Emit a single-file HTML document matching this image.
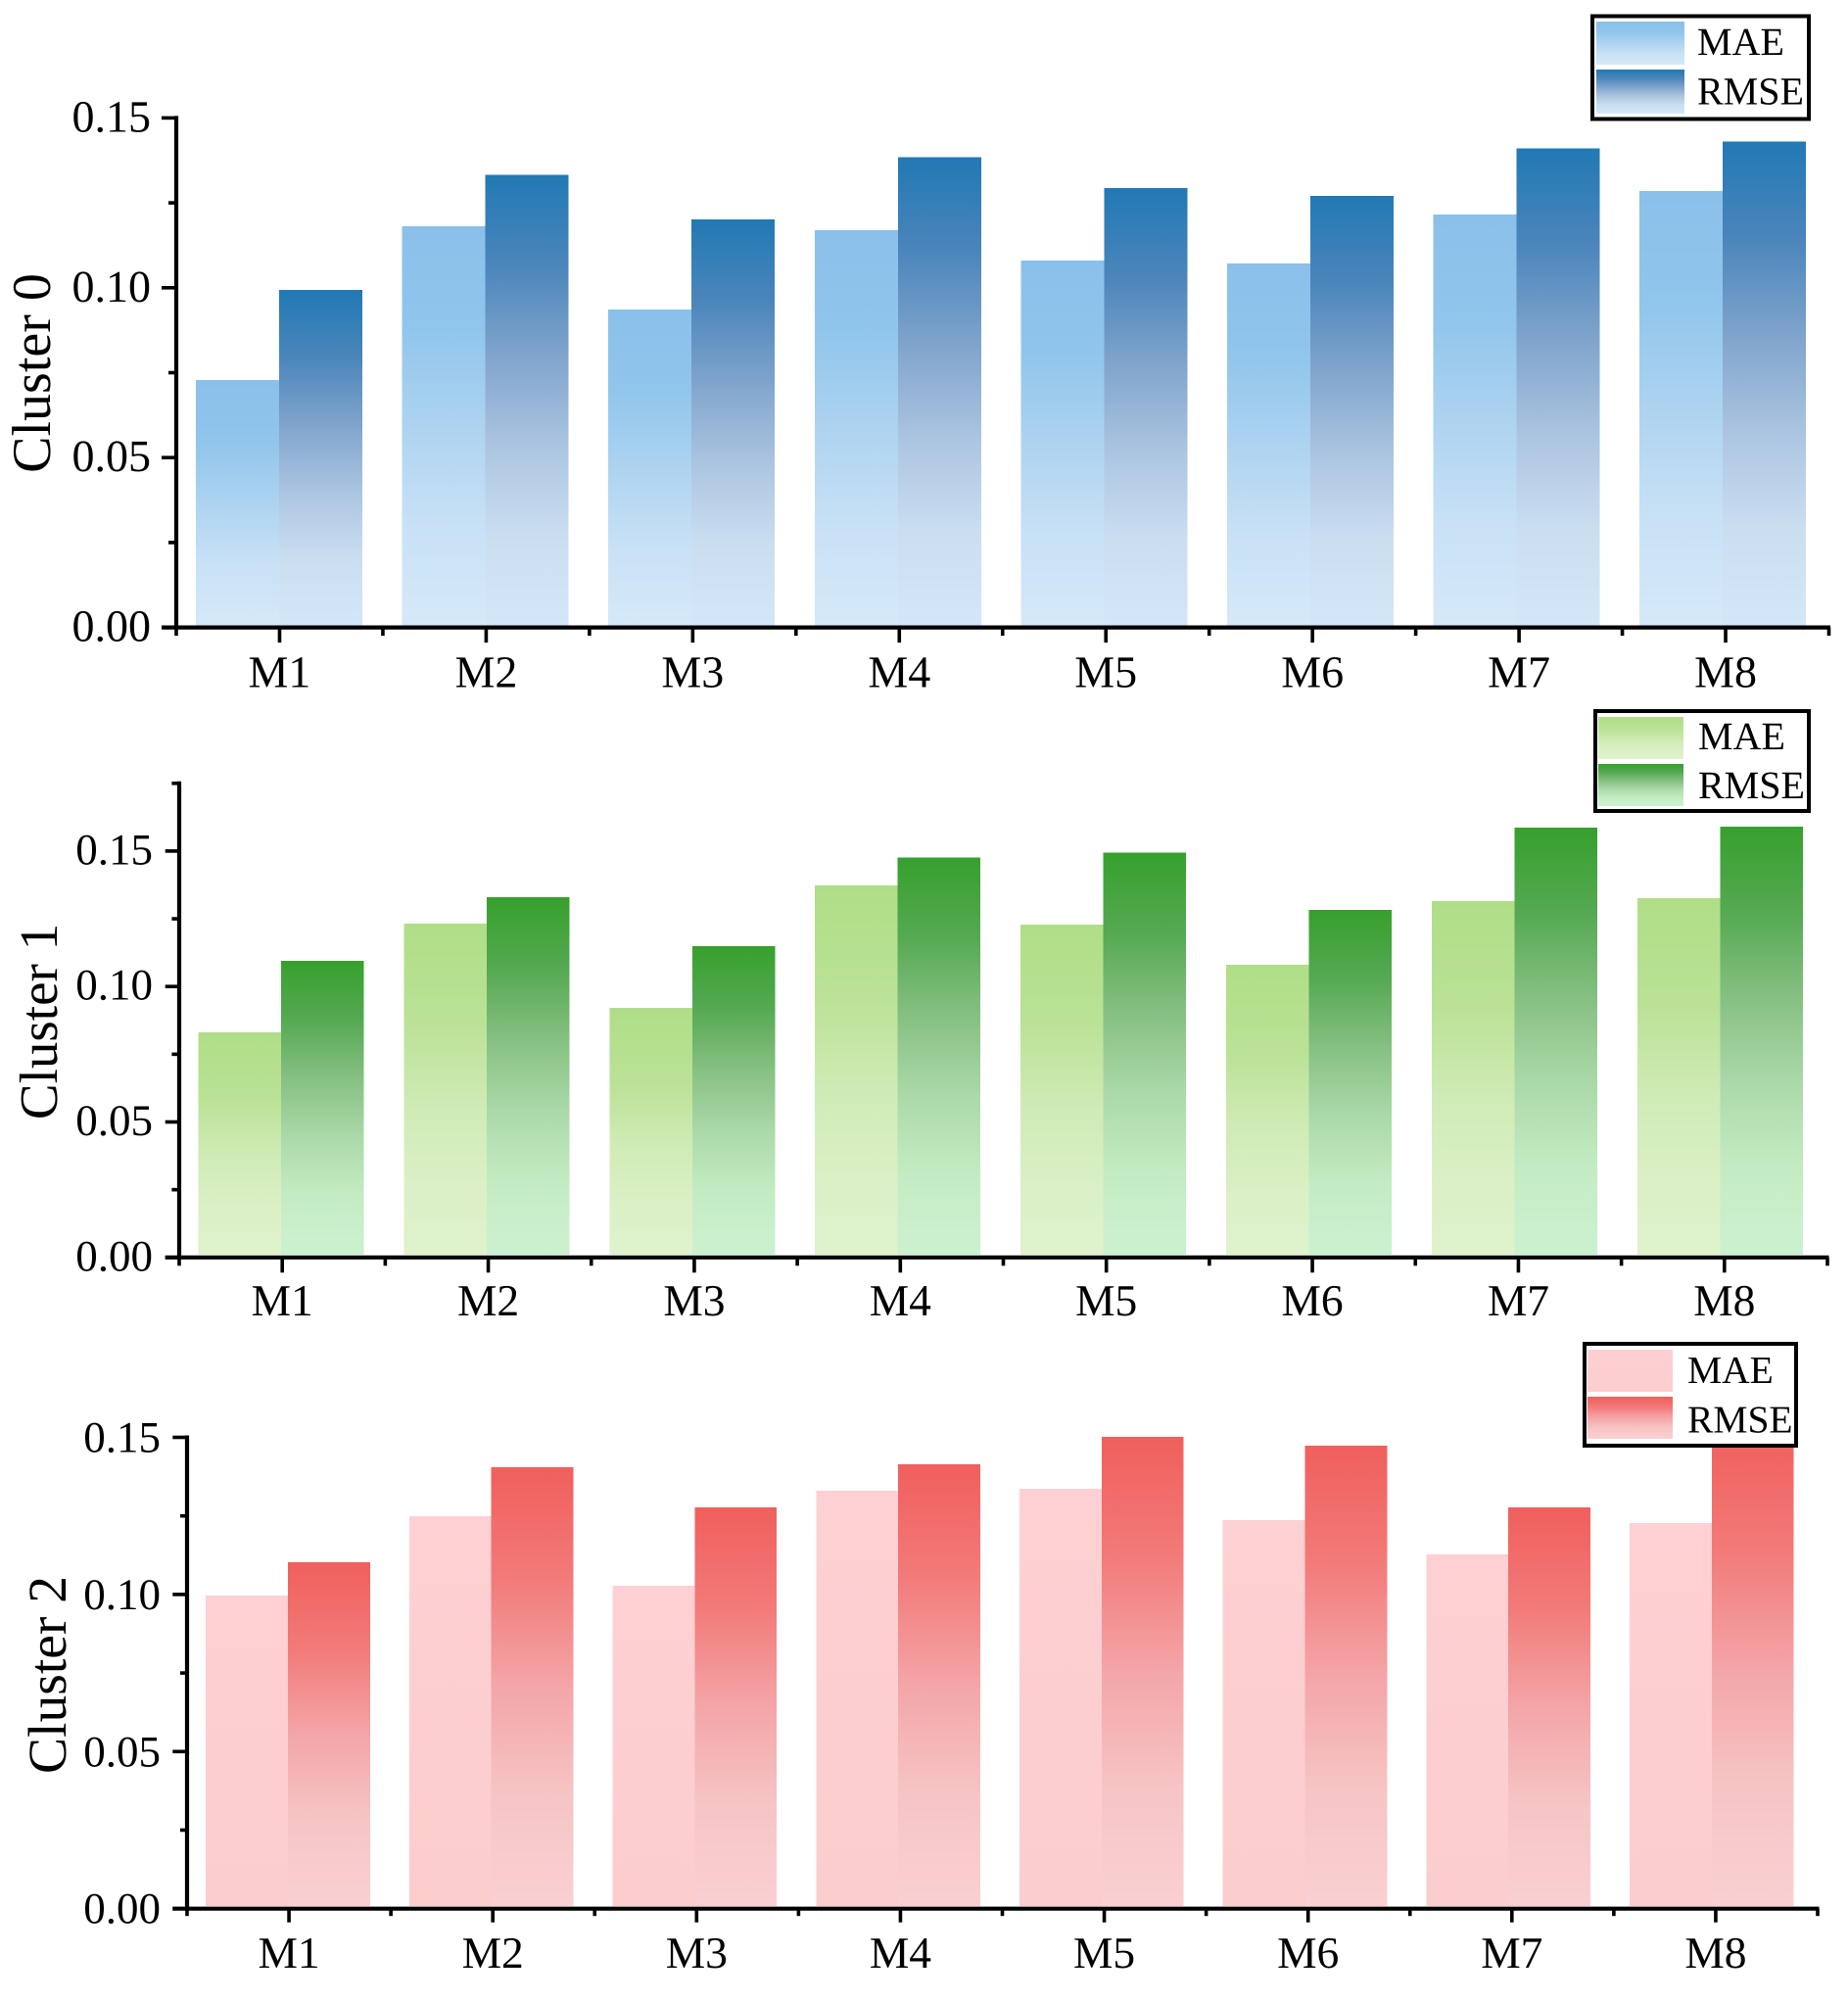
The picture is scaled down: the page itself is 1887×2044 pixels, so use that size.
<!DOCTYPE html>
<html lang="en">
<head>
<meta charset="utf-8">
<title>MAE and RMSE by model and cluster</title>
<style>
html,body{margin:0;padding:0;background:#fff;}
svg{display:block;}
text{font-family:"Liberation Serif",serif;fill:#000;text-rendering:geometricPrecision;}
</style>
</head>
<body>
<svg id="figure" xmlns="http://www.w3.org/2000/svg" width="1887" height="2044" viewBox="0 0 1887 2044">
<defs>
<linearGradient id="grad-mae-0" x1="0" y1="0" x2="0" y2="1"><stop offset="0" stop-color="#8AC0EA"/><stop offset=".25" stop-color="#90C5EC"/><stop offset=".5" stop-color="#ADD3F0"/><stop offset=".75" stop-color="#C8E1F6"/><stop offset="1" stop-color="#D5E9F8"/></linearGradient>
<linearGradient id="grad-rmse-0" x1="0" y1="0" x2="0" y2="1"><stop offset="0" stop-color="#2179B4"/><stop offset=".2" stop-color="#4B85BB"/><stop offset=".4" stop-color="#7FA4CC"/><stop offset=".6" stop-color="#ABC4E0"/><stop offset=".8" stop-color="#CADEF0"/><stop offset="1" stop-color="#D3E7F8"/></linearGradient>
<linearGradient id="grad-mae-1" x1="0" y1="0" x2="0" y2="1"><stop offset="0" stop-color="#B0DE87"/><stop offset=".3" stop-color="#BAE296"/><stop offset=".55" stop-color="#CFEBB5"/><stop offset=".8" stop-color="#DBF0C6"/><stop offset="1" stop-color="#DFF2CD"/></linearGradient>
<linearGradient id="grad-rmse-1" x1="0" y1="0" x2="0" y2="1"><stop offset="0" stop-color="#36A02D"/><stop offset=".2" stop-color="#55A952"/><stop offset=".4" stop-color="#86C082"/><stop offset=".6" stop-color="#ABD9A9"/><stop offset=".8" stop-color="#C4ECC3"/><stop offset="1" stop-color="#CCF1D0"/></linearGradient>
<linearGradient id="grad-mae-2" x1="0" y1="0" x2="0" y2="1"><stop offset="0" stop-color="#FDD0D3"/><stop offset="1" stop-color="#FCCDCD"/></linearGradient>
<linearGradient id="grad-rmse-2" x1="0" y1="0" x2="0" y2="1"><stop offset="0" stop-color="#F05F5D"/><stop offset=".25" stop-color="#F27A78"/><stop offset=".5" stop-color="#F4A5A8"/><stop offset=".75" stop-color="#F6C5C5"/><stop offset="1" stop-color="#FAD0D2"/></linearGradient>
</defs>

<g id="panel-0"></g>
<g id="panel-1"></g>
<g id="panel-2"></g>

<text transform="translate(51,381) rotate(-90)" text-anchor="middle" font-size="56">Cluster 0</text>
<text transform="translate(58,1043) rotate(-90)" text-anchor="middle" font-size="55">Cluster 1</text>
<text transform="translate(67,1710) rotate(-90)" text-anchor="middle" font-size="55.5">Cluster 2</text>

<g>
<rect x="1626" y="16.5" width="221" height="105" fill="#fff" stroke="#000" stroke-width="4"/>
<rect x="1630" y="22" width="90" height="44" fill="url(#grad-mae-0)"/>
<rect x="1630" y="71" width="90" height="45" fill="url(#grad-rmse-0)"/>
<text x="1733" y="56" font-size="40">MAE</text>
<text x="1733" y="106.5" font-size="40">RMSE</text>
</g>
<g>
<rect x="1629" y="726" width="218" height="102" fill="#fff" stroke="#000" stroke-width="4"/>
<rect x="1632" y="732" width="87" height="43" fill="url(#grad-mae-1)"/>
<rect x="1632" y="780" width="87" height="43" fill="url(#grad-rmse-1)"/>
<text x="1734" y="765" font-size="40">MAE</text>
<text x="1734" y="815" font-size="40">RMSE</text>
</g>
<g>
<rect x="1618" y="1372" width="216" height="104" fill="#fff" stroke="#000" stroke-width="4"/>
<rect x="1621" y="1378" width="87" height="43" fill="url(#grad-mae-2)"/>
<rect x="1621" y="1426" width="87" height="43" fill="url(#grad-rmse-2)"/>
<text x="1723" y="1412" font-size="39.5">MAE</text>
<text x="1723" y="1462.5" font-size="39.5">RMSE</text>
</g>
</svg>

<script>
const categories = ['M1', 'M2', 'M3', 'M4', 'M5', 'M6', 'M7', 'M8'];

const maeCluster0 = [0.0728, 0.1181, 0.0936, 0.1169, 0.1080, 0.1071, 0.1215, 0.1285];
const rmseCluster0 = [0.0993, 0.1333, 0.1201, 0.1385, 0.1293, 0.1270, 0.1411, 0.1431];

const maeCluster1 = [0.0831, 0.1233, 0.0921, 0.1373, 0.1228, 0.1080, 0.1315, 0.1327];
const rmseCluster1 = [0.1094, 0.1329, 0.1149, 0.1477, 0.1495, 0.1283, 0.1587, 0.1590];

const maeCluster2 = [0.0996, 0.1249, 0.1028, 0.1330, 0.1336, 0.1236, 0.1127, 0.1227];
const rmseCluster2 = [0.1102, 0.1405, 0.1277, 0.1414, 0.1501, 0.1473, 0.1277, 0.1520];

const majorTicksShort = [0, 0.05, 0.10, 0.15];
const majorTickLabels = ['0.00', '0.05', '0.10', '0.15'];
const minorTicksShort = [0.025, 0.075, 0.125];
const minorTicksTall = [0.025, 0.075, 0.125, 0.175];

const panels = [
  { id: 0, mae: maeCluster0, rmse: rmseCluster0, minor: minorTicksShort,
    axisX: 180, axisEnd: 1867.5, y0: 640.6, yPer: 3468, barBottom: 638.6,
    barFirst: 285, barStep: 210.6, barHalf: 85, labelEnd: 154, labelDy: 14, xBase: 701.5,
    tickFont: 46, catFont: 46,
    majorX: 165, minorX: 172, majorLen: 15.5, minorLen: 8.5 },
  { id: 1, mae: maeCluster1, rmse: rmseCluster1, minor: minorTicksTall,
    axisX: 183, axisEnd: 1866, y0: 1283.8, yPer: 2766, barBottom: 1280.8,
    barFirst: 287, barStep: 209.9, barHalf: 84.5, labelEnd: 156, labelDy: 13.5, xBase: 1343,
    tickFont: 45, catFont: 45.5,
    majorX: 168.7, minorX: 175.4, majorLen: 15.5, minorLen: 8.5 },
  { id: 2, mae: maeCluster2, rmse: rmseCluster2, minor: minorTicksShort,
    axisX: 191, axisEnd: 1856, y0: 1948.7, yPer: 3208, barBottom: 1946,
    barFirst: 294, barStep: 207.7, barHalf: 83.8, labelEnd: 164, labelDy: 15, xBase: 2009,
    tickFont: 45, catFont: 45.5,
    majorX: 176.3, minorX: 184, majorLen: 14, minorLen: 7.5 }
];

const NS = 'http://www.w3.org/2000/svg';

function line(parent, x1, y1, x2, y2, width) {
  const el = document.createElementNS(NS, 'line');
  el.setAttribute('x1', x1);
  el.setAttribute('y1', y1);
  el.setAttribute('x2', x2);
  el.setAttribute('y2', y2);
  el.setAttribute('stroke', '#000');
  el.setAttribute('stroke-width', width);
  parent.appendChild(el);
  return el;
}

function drawBar(parent, x, top, width, bottom, fill) {
  const el = document.createElementNS(NS, 'rect');
  el.setAttribute('x', x);
  el.setAttribute('y', top);
  el.setAttribute('width', width);
  el.setAttribute('height', Math.max(0, bottom - top));
  el.setAttribute('fill', fill);
  el.setAttribute('shape-rendering', 'crispEdges');
  parent.appendChild(el);
  return el;
}

function label(parent, x, y, anchor, size, content) {
  const el = document.createElementNS(NS, 'text');
  el.setAttribute('x', x);
  el.setAttribute('y', y);
  el.setAttribute('text-anchor', anchor);
  el.setAttribute('font-size', size);
  el.textContent = content;
  parent.appendChild(el);
  return el;
}

panels.forEach(function (p) {
  const g = document.getElementById('panel-' + p.id);
  const yScale = function (v) { return p.y0 - v * p.yPer; };
  const barCenter = function (i) { return p.barFirst + i * p.barStep; };
  const band = (p.axisEnd - p.axisX) / categories.length;
  const xTick = function (i) { return p.axisX + (i + 0.5) * band; };
  const xEdge = function (i) { return p.axisX + i * band; };

  categories.forEach(function (cat, i) {
    const c = barCenter(i);
    const maeBar = drawBar(g, c - p.barHalf, yScale(p.mae[i]), p.barHalf, p.barBottom, 'url(#grad-mae-' + p.id + ')');
    
    
    const rmseBar = drawBar(g, c, yScale(p.rmse[i]), p.barHalf, p.barBottom, 'url(#grad-rmse-' + p.id + ')');
    
    
  });

  const topValue = Math.max(Math.max.apply(null, majorTicksShort), Math.max.apply(null, p.minor));

  const yAxis = line(g, p.axisX, p.y0 + 2, p.axisX, yScale(topValue) - 2, 4.2);
  
  

  const xAxis = line(g, p.majorX, p.y0, p.axisEnd + 1.5, p.y0, 4.2);
  
  

  majorTicksShort.forEach(function (v, i) {
    const tick = line(g, p.majorX, yScale(v), p.axisX, yScale(v), 3.6);
    
    
    const text = label(g, p.labelEnd, yScale(v) + p.labelDy, 'end', p.tickFont, majorTickLabels[i]);
    
    
  });

  p.minor.forEach(function (v) {
    const tick = line(g, p.minorX, yScale(v), p.axisX, yScale(v), 3.6);
    
    
  });

  categories.forEach(function (cat, i) {
    const tick = line(g, xTick(i), p.y0, xTick(i), p.y0 + p.majorLen, 3.6);
    
    
    const text = label(g, xTick(i), p.xBase, 'middle', p.catFont, cat);
    
    
  });

  for (let i = 0; i <= categories.length; i++) {
    const tick = line(g, xEdge(i), p.y0, xEdge(i), p.y0 + p.minorLen, 3.6);
    
    
  }
});
</script>
</body>
</html>
